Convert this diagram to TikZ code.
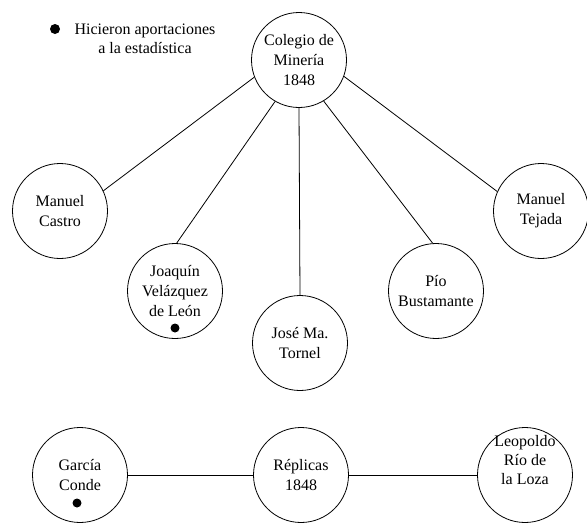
\documentclass[tikz,border=0pt]{standalone}
\usepackage{fontspec}
\setmainfont{Liberation Serif}

\begin{document}
\begin{tikzpicture}
      [x=1pt,y=-1pt
      ,per/.style={draw=black,circle,line width=.8pt,minimum size=95pt,inner sep=0pt,align=center,font=\fontsize{16}{20}\selectfont}
      ,txt/.style={align=center,inner sep=0pt,font=\fontsize{16}{19}\selectfont}
      ,pto/.style={fill=black,circle,minimum size=9pt,inner sep=0pt}
      ,lin/.style={draw=black,line width=.8pt}
      ]
        \useasboundingbox (0,0) rectangle (587,523);

        % legend
        \node[pto,minimum size=10pt] (leypto) at (55,29) {};
        \node[txt] (ley) at (145,39) {Hicieron aportaciones\\a la estadística};

        \node[per] (col) at (299,60) {Colegio de\\Minería\\1848};
        \node[per] (cas) at (60,211) {Manuel\\Castro};
        \node[per] (joa) at (175,291) {Joaquín\\Velázquez\\de León};
        \node[per] (tor) at (300,343) {José Ma.\\Tornel};
        \node[per] (pio) at (436,291) {Pío\\Bustamante};
        \node[per] (tej) at (541,211) {Manuel\\Tejada};

        \node[per] (gar) at (80,475) {García\\Conde};
        \node[per] (rep) at (301,475) {Réplicas\\1848};
        \node[per,label={[txt,yshift=15pt]center:Leopoldo\\Río de\\la Loza}] (leo) at (525,475) {};

        \node[pto] (joapto) at (175,328) {};
        \node[pto] (garpto) at (77,503) {};

        \foreach \n/\a/\b in {cas/201/25, joa/240/88, tor/270/90, pio/301/94, tej/340/156}
        {
            \draw[lin] (col.\a) -- (\n.\b);
        }

        \draw[lin] (gar) -- (rep);
        \draw[lin] (rep) -- (leo);

       \end{tikzpicture}
\end{document}
